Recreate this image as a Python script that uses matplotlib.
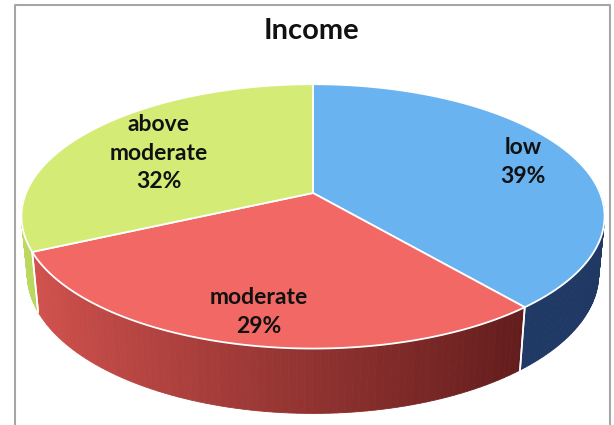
import numpy as np
import matplotlib.pyplot as plt
from matplotlib.patches import Polygon
from matplotlib.colors import to_rgb

# data
labels = ["low", "moderate", "above\nmoderate"]
shares = [39, 29, 32]
title = "Income"

top_colors = ["#69b3f0", "#f26865", "#d4ec76"]
side_light = ["#223c6a", "#d2524e", "#bcd85e"]
side_dark = ["#1f3864", "#621d1c", "#a9c64e"]

# simple perspective camera for a tilted disk
elev = np.radians(26.5)
dist = 5.06
focal = 1452
height = 0.225
cx, cy = 313, 193


def project(t, z=0.0):
    x = np.cos(t)
    y = np.sin(t)
    sy = y * np.sin(elev) + z * np.cos(elev)
    depth = dist + y * np.cos(elev) - z * np.sin(elev)
    return cx + focal * x / depth, cy - focal * sy / depth


fig = plt.figure(figsize=(6.14, 4.25), dpi=100)
ax = fig.add_axes([0, 0, 1, 1])
ax.set_xlim(0, 614)
ax.set_ylim(425, 0)
ax.axis("off")

# chart border
ax.plot([14.5, 14.5, 610, 610], [430, 4.5, 4.5, 430], color="#a6a6a6", lw=1.5)

# slice angles, clockwise from the top
fracs = np.array(shares) / sum(shares)
starts = np.pi / 2 - np.concatenate([[0], np.cumsum(fracs)[:-1]]) * 2 * np.pi
ends = starts - fracs * 2 * np.pi

# side walls (front half only), drawn as thin strips for the shading
for i in range(len(shares)):
    a0 = min(starts[i], np.radians(3))
    a1 = max(ends[i], np.radians(-183))
    if a0 <= a1:
        continue
    ts = np.linspace(a0, a1, 80)
    c0 = np.array(to_rgb(side_light[i]))
    c1 = np.array(to_rgb(side_dark[i]))
    for k in range(len(ts) - 1):
        frac = (np.cos(ts[k]) + 1) / 2
        if i == 1:
            frac = np.clip((np.cos(ts[k]) + 0.9) / 1.55, 0, 1)
        col = c0 + (c1 - c0) * frac
        xa, ya = project(ts[k])
        xb, yb = project(ts[k + 1])
        xc, yc = project(ts[k + 1], -height)
        xd, yd = project(ts[k], -height)
        ax.add_patch(Polygon([[xa, ya], [xb, yb], [xc, yc], [xd, yd]],
                             closed=True, facecolor=col, edgecolor=col, lw=0.6))
    # white seam at slice boundary on the side
    for a in (starts[i], ends[i]):
        if np.radians(-180) < a < 0:
            xa, ya = project(a)
            xd, yd = project(a, -height)
            ax.plot([xa, xd], [ya, yd], color="white", lw=1.2)

# top faces
for i in range(len(shares)):
    ts = np.linspace(starts[i], ends[i], 200)
    pts = [project(t) for t in ts]
    pts = [(cx, cy)] + pts
    ax.add_patch(Polygon(pts, closed=True, facecolor=top_colors[i],
                         edgecolor="white", lw=1.3, joinstyle="round"))

# labels
label_pos = [(523, 162), (259, 312), (159, 153)]
for i in range(len(shares)):
    x, y = label_pos[i]
    ax.text(x, y, f"{labels[i]}\n{shares[i]}%", ha="center", va="center",
            fontsize=16.5, fontweight="bold", family="Lato", color="#111111",
            linespacing=1.45)

ax.text(311, 31, title, ha="center", va="center", fontsize=21,
        fontweight="bold", family="Lato", color="#111111")

fig.savefig("out.png", dpi=100)
